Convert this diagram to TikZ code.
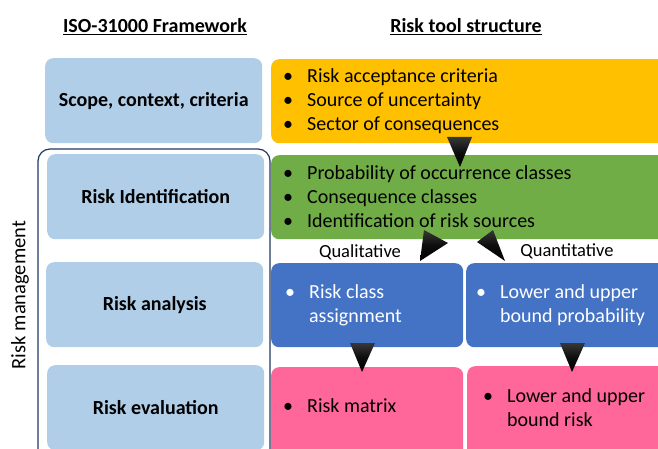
\documentclass[tikz,border=0pt]{standalone}
\usepackage{fontspec}
\setmainfont{Carlito}
\usetikzlibrary{shapes.geometric}
\definecolor{lblue}{HTML}{B0CEE8}
\definecolor{orng}{HTML}{FFC000}
\definecolor{grn}{HTML}{70AD47}
\definecolor{dblue}{HTML}{4472C4}
\definecolor{pnk}{HTML}{FF6699}
\definecolor{navy}{HTML}{203864}
\tikzset{
  leftbox/.style={fill=lblue, rounded corners=8pt, minimum width=217pt, minimum height=85pt, anchor=north west, inner sep=0pt, font=\fontsize{20}{24}\selectfont\bfseries},
  rightbox/.style={rounded corners=8pt, minimum height=84pt, anchor=north west, inner sep=0pt},
  btext/.style={anchor=west, align=left, inner sep=0pt, font=\fontsize{20}{24}\selectfont},
  head/.style={font=\fontsize{20}{24}\selectfont\bfseries},
  small/.style={font=\fontsize{18.5}{20}\selectfont},
  tri/.style={top color=black!78, bottom color=black, middle color=black!95}
}
\newcommand{\bl}[1]{\begin{tabular}{@{}l@{\hspace{14pt}}l@{}}#1\end{tabular}}
\begin{document}
\begin{tikzpicture}[x=1pt,y=-1pt]
\useasboundingbox (0,0) rectangle (658,449);
\clip (0,0) rectangle (658,449);
% headers
\node[head] (h1) at (155,27) {\underline{ISO-31000 Framework}};
\node[head] (h2) at (466,27) {\underline{Risk tool structure}};
% outer management frame
\draw[navy, line width=1.2pt, rounded corners=12pt] (38,149) rectangle (270,470);
\node[rotate=90, font=\fontsize{20.5}{24}\selectfont] (rm) at (20,295) {Risk management};
% left boxes
\node[leftbox] (scope) at (45,58) {Scope, context, criteria};
\node[leftbox] (ident) at (47,154) {Risk Identification};
\node[leftbox] (anal) at (46,262) {Risk analysis};
\node[leftbox] (eval) at (47,365) {Risk evaluation};
% right boxes
\node[rightbox, fill=orng, minimum width=400pt] (orb) at (271,59) {};
\node[rightbox, fill=grn, minimum width=400pt] (grb) at (271,155) {};
\node[rightbox, fill=dblue, minimum width=192pt] (bl1) at (271,263) {};
\node[rightbox, fill=dblue, minimum width=200pt] (bl2) at (466,263) {};
\node[rightbox, fill=pnk, minimum width=192pt, minimum height=100pt] (pk1) at (271,367) {};
\node[rightbox, fill=pnk, minimum width=200pt, minimum height=100pt] (pk2) at (467,366) {};
% texts
\node[btext] (t1) at (283,102) {\bl{• & Risk acceptance criteria\\ • & Source of uncertainty\\ • & Sector of consequences}};
\node[btext] (t2) at (283,199) {\bl{• & Probability of occurrence classes\\ • & Consequence classes\\ • & Identification of risk sources}};
\node[btext, text=white] (t3) at (285,306) {\bl{• & Risk class\\ & assignment}};
\node[btext, text=white] (t4) at (476,306) {\bl{• & Lower and upper\\ & bound probability}};
\node[btext] (t5) at (283,408) {\bl{• & Risk matrix}};
\node[btext] (t6) at (483,410) {\bl{• & Lower and upper\\ & bound risk}};
\node[small] (ql) at (360,252) {Qualitative};
\node[small] (qn) at (567,251) {Quantitative};
% arrows
\shade[tri] (447,137) -- (472,137) -- (460,167) -- cycle;
\shade[tri] (424,230) -- (448,243) -- (420,261) -- cycle;
\shade[tri] (493,230) -- (477,242) -- (505,261) -- cycle;
\shade[tri] (350,343) -- (375,343) -- (362,372) -- cycle;
\shade[tri] (560,343) -- (585,343) -- (572,372) -- cycle;
\end{tikzpicture}
\end{document}
